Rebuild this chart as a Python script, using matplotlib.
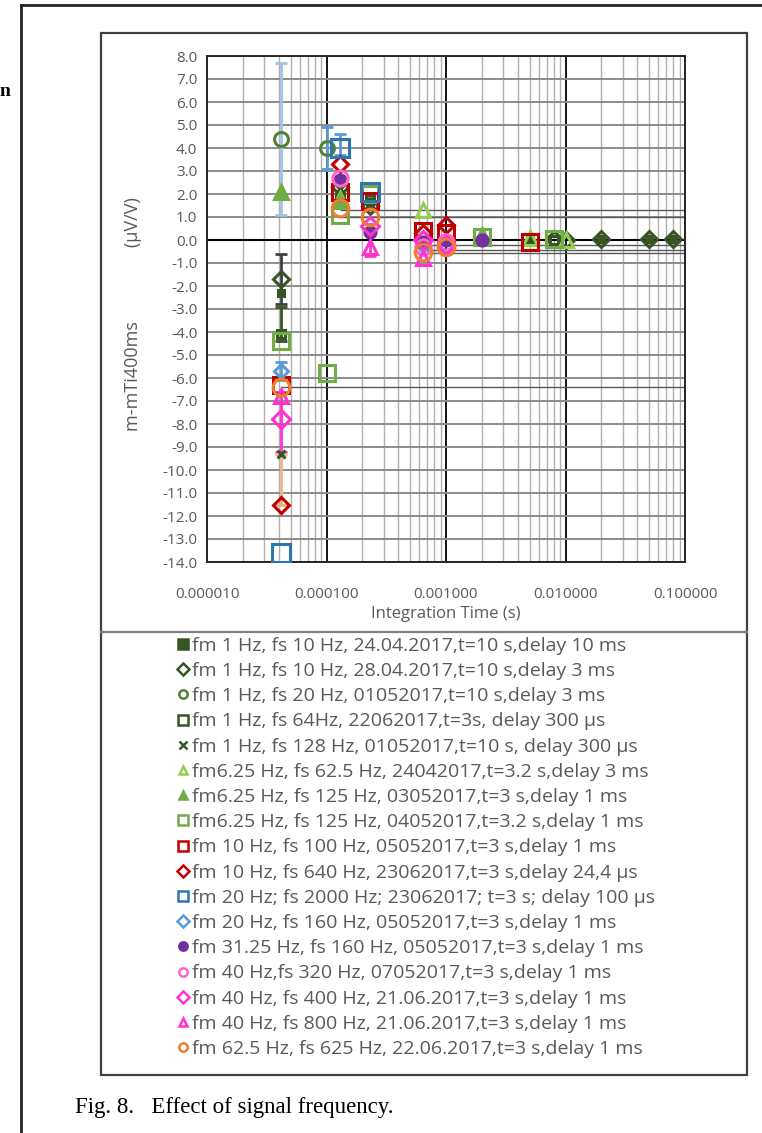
import numpy as np
import matplotlib
matplotlib.use('Agg')
import matplotlib.pyplot as plt
from matplotlib.lines import Line2D
from matplotlib.patches import Rectangle
from matplotlib.ticker import FixedLocator, FuncFormatter

# ---- data ----
labels = [
    'fm 1 Hz, fs 10 Hz, 24.04.2017,t=10 s,delay 10 ms',
    'fm 1 Hz, fs 10 Hz, 28.04.2017,t=10 s,delay 3 ms',
    'fm 1 Hz, fs 20 Hz, 01052017,t=10 s,delay 3 ms',
    'fm 1 Hz, fs 64Hz, 22062017,t=3s, delay 300 µs',
    'fm 1 Hz, fs 128 Hz, 01052017,t=10 s, delay 300 µs',
    'fm6.25 Hz, fs 62.5 Hz, 24042017,t=3.2 s,delay 3 ms',
    'fm6.25 Hz, fs 125 Hz, 03052017,t=3 s,delay 1 ms',
    'fm6.25 Hz, fs 125 Hz, 04052017,t=3.2 s,delay 1 ms',
    'fm 10 Hz, fs 100 Hz, 05052017,t=3 s,delay 1 ms',
    'fm 10 Hz, fs 640 Hz, 23062017,t=3 s,delay 24,4 µs',
    'fm 20 Hz; fs 2000 Hz; 23062017; t=3 s; delay 100 µs',
    'fm 20 Hz, fs 160 Hz, 05052017,t=3 s,delay 1 ms',
    'fm 31.25 Hz, fs 160 Hz, 05052017,t=3 s,delay 1 ms',
    'fm 40 Hz,fs 320 Hz, 07052017,t=3 s,delay 1 ms',
    'fm 40 Hz, fs 400 Hz, 21.06.2017,t=3 s,delay 1 ms',
    'fm 40 Hz, fs 800 Hz, 21.06.2017,t=3 s,delay 1 ms',
    'fm 62.5 Hz, fs 625 Hz, 22.06.2017,t=3 s,delay 1 ms',
]

x01 = [4.2e-5, 1.3e-4, 2.3e-4, 5e-3, 2e-2, 5e-2, 8e-2]
y01 = [-2.3, 2.0, 1.6, 0.0, 0.05, 0.05, 0.05]
x02 = [4.2e-5, 1.3e-4, 2.3e-4, 8e-3, 1e-2, 2e-2, 5e-2, 8e-2]
y02 = [-1.7, 2.3, 1.5, 0.05, 0.0, 0.05, 0.05, 0.05]
x03 = [4.2e-5, 1.0e-4]
y03 = [4.4, 4.0]
x04 = [4.2e-5, 1.3e-4, 2.3e-4, 8e-3]
y04 = [-4.1, 1.9, 1.8, 0.0]
x05 = [4.2e-5, 1.3e-4, 2.3e-4]
y05 = [-9.3, 2.2, 1.7]
x06 = [1.3e-4, 6.4e-4, 5e-3, 1e-2]
y06 = [1.8, 1.3, 0.1, 0.0]
x07 = [4.2e-5, 1.3e-4, 2e-3]
y07 = [2.1, 1.7, 0.2]
x08 = [4.2e-5, 1.0e-4, 1.3e-4, 2.3e-4, 2e-3, 8e-3]
y08 = [-4.4, -5.8, 1.1, 2.0, 0.15, 0.05]
x09 = [4.2e-5, 1.3e-4, 2.3e-4, 6.4e-4, 1e-3, 5e-3]
y09 = [-6.3, 2.1, 1.7, 0.4, 0.3, -0.1]
x10 = [4.2e-5, 1.3e-4, 6.4e-4, 1e-3]
y10 = [-11.5, 3.3, 0.3, 0.65]
x11 = [4.2e-5, 1.3e-4, 2.3e-4]
y11 = [-13.6, 4.0, 2.1]
x12 = [4.2e-5, 6.4e-4, 1e-3]
y12 = [-5.7, -0.2, -0.2]
x13 = [1.3e-4, 2.3e-4, 6.4e-4, 1e-3, 2e-3]
y13 = [2.6, 0.35, -0.1, 0.0, 0.0]
x14 = [1.3e-4, 6.4e-4, 1e-3]
y14 = [2.7, -0.3, -0.1]
x15 = [4.2e-5, 2.3e-4, 6.4e-4, 1e-3]
y15 = [-7.8, 0.6, 0.0, -0.2]
x16 = [4.2e-5, 2.3e-4, 6.4e-4]
y16 = [-6.8, -0.3, -0.8]
x17 = [4.2e-5, 1.3e-4, 2.3e-4, 6.4e-4, 1e-3]
y17 = [-6.4, 1.4, 1.0, -0.5, -0.3]

# error bars (vertical)
eb_x = [4.2e-5, 1.0e-4, 4.2e-5, 4.2e-5, 4.2e-5, 4.2e-5, 4.2e-5, 2.3e-4, 1.3e-4]
eb_y = [4.4, 4.0, -1.7, -4.1, -5.7, -7.9, -11.5, -0.3, 4.0]
eb_lo = [3.3, 0.9, 1.1, 0.3, 0.4, 1.3, 0.0, 0.4, 0.3]
eb_hi = [3.3, 0.9, 1.1, 1.2, 0.4, 1.3, 2.2, 1.0, 0.6]

# horizontal error bars running to the right edge
hl_y = [1.3, 1.0, -0.2, -0.43, -0.57, -6.4]
hl_x0 = [1.3e-4, 1.3e-4, 6.4e-4, 6.4e-4, 6.4e-4, 4.2e-5]

xticks = [1e-5, 1e-4, 1e-3, 1e-2, 1e-1]
yticks = np.arange(-14, 9, 1)

# ---- styles ----
dg = '#375623'
lg = '#70ad47'
colors = [dg, dg, '#538135', dg, dg, '#92d050', lg, lg, '#c00000', '#c00000',
          '#2e75b6', '#5b9bd5', '#7030a0', '#ff66cc', '#ff33cc', '#ff33cc', '#ed7d31']
markers = ['s', 'D', 'o', 's', 'x', '^', '^', 's', 's', 'D', 's', 'D', 'o', 'o', 'D', '^', 'o']
filled = [True, False, False, False, True, False, True, False, False, False,
          False, False, True, False, False, False, False]
msizes = [5, 8, 10, 6, 6, 10, 10, 12, 11, 8, 13, 7, 8, 11, 9, 10, 12]
eb_colors = ['#9dc3e6', '#5b9bd5', '#404040', dg, '#5b9bd5', '#ff33cc', '#f4b183', '#ff33cc', '#5b9bd5']
eb_styles = ['-', ':', '-', '-', '-', '-', '-', '-', '-']

txt = '#595959'
plt.rcParams['font.family'] = ['Open Sans', 'DejaVu Sans']

W, H = 762, 1133


def fx(px):
    return px / W


def fy(py):
    return 1 - py / H


fig = plt.figure(figsize=(W / 100, H / 100), dpi=100)
ax = fig.add_axes([fx(207), fy(562), (685 - 207) / W, (562 - 56) / H])

ax.set_xscale('log')
ax.set_xlim(1e-5, 1e-1)
ax.set_ylim(-14, 8)

ax.xaxis.set_major_locator(FixedLocator(xticks))
ax.xaxis.set_minor_locator(FixedLocator([m * d for d in xticks[:-1] for m in range(2, 10)]))
ax.xaxis.set_major_formatter(FuncFormatter(lambda v, p: '%.6f' % v))
ax.xaxis.set_minor_formatter(FuncFormatter(lambda v, p: ''))
ax.yaxis.set_major_locator(FixedLocator(yticks))
ax.yaxis.set_major_formatter(FuncFormatter(lambda v, p: '%.1f' % v))

ax.grid(which='minor', axis='x', color='#b0b0b0', lw=1.0)
ax.grid(which='major', axis='x', color='black', lw=1.3)
ax.grid(which='major', axis='y', color='#8c8c8c', lw=1.4)
ax.set_axisbelow(True)
ax.tick_params(which='both', length=0, colors=txt, labelsize=11)
ax.tick_params(axis='x', pad=18)
ax.tick_params(axis='y', pad=7)
for s in ax.spines.values():
    s.set_color('#262626')
    s.set_linewidth(1.4)

ax.axhline(0, color='black', lw=1.5, zorder=1.5)
ax.hlines(hl_y, hl_x0, 1e-1, color='#595959', lw=1.0, zorder=1.6)

for i in range(len(eb_x)):
    ax.errorbar([eb_x[i]], [eb_y[i]], yerr=[[eb_lo[i]], [eb_hi[i]]], fmt='none',
                ecolor=eb_colors[i], elinewidth=2, capsize=4, capthick=2,
                ls=eb_styles[i], zorder=2)

series_x = [x01, x02, x03, x04, x05, x06, x07, x08, x09, x10, x11, x12, x13, x14, x15, x16, x17]
series_y = [y01, y02, y03, y04, y05, y06, y07, y08, y09, y10, y11, y12, y13, y14, y15, y16, y17]

handles = []
for i in range(len(labels)):
    fc = colors[i] if filled[i] else 'none'
    ax.plot(series_x[i], series_y[i], ls='none', marker=markers[i], ms=msizes[i],
            mfc=fc, mec=colors[i], mew=2.2, zorder=3 + i * 0.01)
    handles.append(Line2D([], [], ls='none', marker=markers[i], ms=6 if markers[i] != 's' else 6.5,
                          mfc=fc, mec=colors[i], mew=1.8))

ax.set_xlabel('Integration Time (s)', color=txt, fontsize=12, labelpad=3)
fig.text(fx(133), fy(314), 'm-mTi400ms                (µV/V)', rotation=90,
         color=txt, fontsize=13, ha='center', va='center')

fig.legend(handles, labels, loc='upper left', bbox_to_anchor=(fx(170), fy(631)),
           frameon=False, fontsize=14, labelcolor=txt, handlelength=0.7,
           handletextpad=0.15, labelspacing=0.37, borderaxespad=0, borderpad=0.3)

# chart frame and page decorations
fig.add_artist(Rectangle((fx(101), fy(1075)), (747 - 101) / W, (1075 - 33) / H,
                         transform=fig.transFigure, fill=False, ec='#404040', lw=1.6))
fig.add_artist(Line2D([fx(101), fx(747)], [fy(632), fy(632)], transform=fig.transFigure,
                      color='#808080', lw=1.6))
fig.add_artist(Line2D([fx(21), fx(21)], [0, fy(5)], transform=fig.transFigure,
                      color='#222222', lw=2))
fig.add_artist(Line2D([fx(21), 1], [fy(5), fy(5)], transform=fig.transFigure,
                      color='#222222', lw=2))

fig.text(0.0, fy(92), 'n', family='Liberation Serif', weight='bold', fontsize=14,
         va='center', ha='left')
fig.text(fx(75), fy(1107), 'Fig. 8.   Effect of signal frequency.',
         family='Liberation Serif', fontsize=16.5, va='center', ha='left')

fig.savefig('out.png', dpi=100)
